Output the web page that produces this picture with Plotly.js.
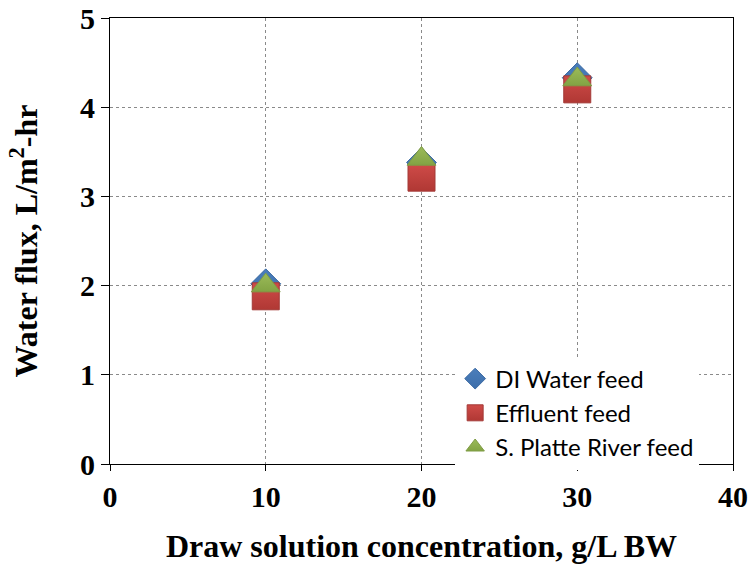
<!DOCTYPE html>
<html><head><meta charset="utf-8">
<script src="https://cdn.plot.ly/plotly-3.0.1.min.js"></script>
<style>html,body{margin:0;padding:0;background:#fff}#chart{width:749px;height:571px}</style>
</head><body><div id="chart"></div>
<script>
const concentration = [10, 20, 30];
const diWater = [2.02, 3.38, 4.33];
const effluent = [1.88, 3.21, 4.20];
const sPlatte = [2.00, 3.42, 4.31];
const seriesNames = ["DI Water feed", "Effluent feed", "S. Platte River feed"];
const xTicks = [0, 10, 20, 30, 40];
const yTicks = [0, 1, 2, 3, 4, 5];

const traces = [
  {x: concentration, y: diWater, name: seriesNames[0], legendgroup: "a", type: "scatter", mode: "markers",
   marker: {symbol: "diamond", size: 23, color: "#4a7ebb", line: {color: "#3c6aa3", width: 1},
            gradient: {type: "vertical", color: "#3d6eaa"}}},
  {x: concentration, y: effluent, name: seriesNames[1], legendgroup: "b", type: "scatter", mode: "markers",
   marker: {symbol: "square", size: 27, color: "#cf4b48", line: {color: "#a33a37", width: 1},
            gradient: {type: "vertical", color: "#b03834"}}},
  {x: concentration, y: sPlatte, name: seriesNames[2], legendgroup: "c", type: "scatter", mode: "markers",
   marker: {symbol: "triangle-up", size: 25, color: "#9bbb59", line: {color: "#7f9c45", width: 1},
            gradient: {type: "vertical", color: "#82a343"}}}
];

const axisFont = {family: "Liberation Serif", size: 32, color: "#000"};
const tickFont = {family: "Liberation Serif", size: 30, color: "#000", weight: "bold"};
const layout = {
  width: 749, height: 571,
  margin: {l: 110, r: 16, t: 18, b: 107},
  paper_bgcolor: "#fff", plot_bgcolor: "#fff",
  showlegend: true,
  legend: {x: 0.554, xanchor: "left", y: 0.241, yanchor: "top", bgcolor: "#fff", borderwidth: 0,
           font: {family: "Lato", size: 24, color: "#000"}, traceorder: "grouped", tracegroupgap: 0},
  xaxis: {range: [0, 40], tickvals: xTicks, ticktext: xTicks.map(String),
          showline: true, linecolor: "#000", linewidth: 1, mirror: true,
          ticks: "outside", ticklen: 6, tickcolor: "#000",
          showgrid: true, gridcolor: "#8a8a8a", griddash: "dot", gridwidth: 1, zeroline: false,
          tickfont: tickFont,
          title: {text: "<b>Draw solution concentration, g/L BW</b>", font: axisFont, standoff: 22}},
  yaxis: {range: [0, 5], tickvals: yTicks, ticktext: yTicks.map(String),
          showline: true, linecolor: "#000", linewidth: 1, mirror: true,
          ticks: "outside", ticklen: 8, tickcolor: "#000",
          showgrid: true, gridcolor: "#8a8a8a", griddash: "dot", gridwidth: 1, zeroline: false,
          tickfont: tickFont,
          title: {text: "<b>Water flux, L/m<sup>2</sup>-hr</b>", font: axisFont, standoff: 32}}
};
Plotly.newPlot("chart", traces, layout, {displayModeBar: false, staticPlot: true});
</script></body></html>
